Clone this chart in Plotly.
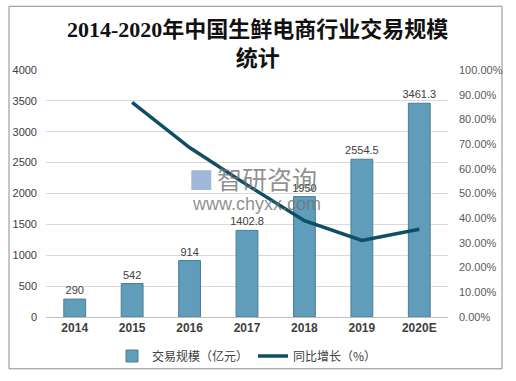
import plotly.graph_objects as go

years = ["2014", "2015", "2016", "2017", "2018", "2019", "2020E"]
scale = [290, 542, 914, 1402.8, 1950.0, 2554.5, 3461.3]
scale_labels = ["290", "542", "914", "1402.8", "1950", "2554.5", "3461.3"]
growth_years = ["2015", "2016", "2017", "2018", "2019", "2020E"]
growth = [0.869, 0.686, 0.535, 0.390, 0.310, 0.355]

fig = go.Figure()
fig.add_trace(go.Bar(
    x=years, y=scale, name="交易规模（亿元）",
    text=scale_labels, textposition="outside", constraintext="none",
    textfont=dict(size=11, color="#404040", family="Liberation Sans, Arial"),
    marker=dict(color="#5f9dbb", line=dict(color="#4a7d94", width=1)),
    cliponaxis=False,
))
fig.add_trace(go.Scatter(
    x=growth_years, y=growth, name="同比增长（%）", yaxis="y2",
    mode="lines", line=dict(color="#0e4f66", width=3.5),
))

L, R, T, B = 46, 68, 70, 63
W, H = 516, 381
pw, ph = W - L - R, H - T - B

def px(x):
    return (x - L) / pw

def py(y):
    return (H - B - y) / ph

fig.update_layout(
    width=W, height=H,
    margin=dict(l=L, r=R, t=T, b=B),
    paper_bgcolor="white", plot_bgcolor="white",
    font=dict(family="Noto Sans CJK SC, Liberation Sans", color="#404040"),
    bargap=0.62,
    showlegend=True,
    legend=dict(
        orientation="h", x=0.5, xanchor="center", xref="paper",
        y=py(356), yanchor="middle",
        font=dict(size=12, color="#404040", family="Noto Sans CJK SC"),
        itemwidth=30, bgcolor="rgba(0,0,0,0)",
    ),
    xaxis=dict(
        type="category", showgrid=False,
        showline=True, linecolor="#bfbfbf", linewidth=1,
        ticks="", tickfont=dict(size=12, color="#404040", family="Liberation Sans, Arial", weight="bold"),
    ),
    yaxis=dict(
        range=[0, 4000], dtick=500, showgrid=True, gridcolor="#d9d9d9",
        zeroline=False, showline=False, ticks="",
        tickfont=dict(size=11, color="#404040", family="Liberation Sans, Arial"),
        ticklabelstandoff=8,
    ),
    yaxis2=dict(
        range=[0, 1], dtick=0.1, tickformat=".2%", overlaying="y", side="right",
        showgrid=False, zeroline=False, showline=False, ticks="",
        tickfont=dict(size=11, color="#595959", family="Liberation Sans, Arial"),
        ticklabelstandoff=10,
    ),
    shapes=[dict(
        type="rect", xref="paper", yref="paper",
        x0=px(9), x1=px(502), y0=py(370), y1=py(6),
        line=dict(color="#8c8c8c", width=1), fillcolor="rgba(0,0,0,0)", layer="below",
    )],
    annotations=[
        dict(text="<b>2014-2020年中国生鲜电商行业交易规模<br>统计</b>",
             xref="paper", yref="paper", x=px(257), y=py(44),
             xanchor="center", yanchor="middle", showarrow=False,
             font=dict(size=22, color="#111111", family="Liberation Serif, Noto Sans CJK SC")),
        dict(text="智研咨询", xref="paper", yref="paper", x=px(215), y=py(178),
             xanchor="left", yanchor="middle", showarrow=False,
             font=dict(size=25, color="rgba(115,115,115,0.8)", family="Noto Sans CJK SC")),
        dict(text="www.chyxx.com", xref="paper", yref="paper", x=px(190), y=py(205),
             xanchor="left", yanchor="middle", showarrow=False,
             font=dict(size=18, color="rgba(115,115,115,0.8)", family="Liberation Sans, Arial")),
        dict(text="■", xref="paper", yref="paper", x=px(201), y=py(178),
             xanchor="center", yanchor="middle", showarrow=False,
             font=dict(size=26, color="rgba(120,150,200,0.7)", family="DejaVu Sans")),
    ],
)

fig.write_html("out.html", config={"displayModeBar": False},
               post_script="document.body.style.margin='0';document.body.style.padding='0';")
